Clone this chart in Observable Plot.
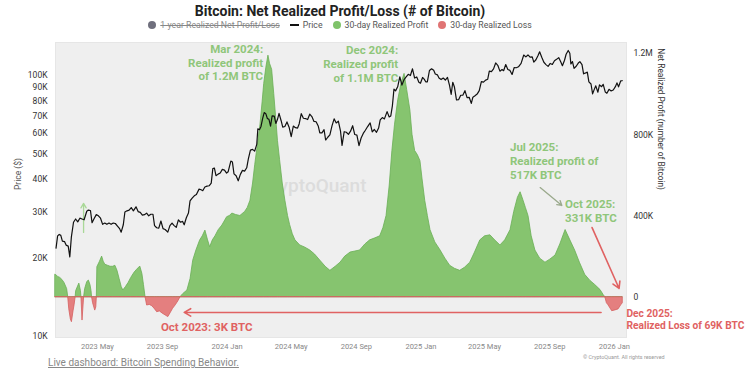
<!DOCTYPE html>
<html><head><meta charset="utf-8">
<script src="https://cdn.jsdelivr.net/npm/d3@7"></script>
<script src="https://cdn.jsdelivr.net/npm/@observablehq/plot@0.6"></script>
<style>
body{margin:0;background:#fff;font-family:Roboto,"Noto Sans",sans-serif;}
#wrap{position:relative;width:750px;height:375px;overflow:hidden;background:#fff;}
#title{position:absolute;left:0;top:3px;width:680px;text-align:center;font-weight:700;font-size:14px;line-height:16px;color:#222;}
#legend{position:absolute;left:0;top:19px;width:680px;display:flex;justify-content:center;align-items:center;gap:10px;font-size:8.7px;color:#555;line-height:12px;}
#legend .it{display:flex;align-items:center;gap:4px;}
#legend .dot{width:8px;height:8px;border-radius:50%;display:inline-block;}
#legend .ln{width:9px;height:1.3px;background:#111;display:inline-block;}
#legend .strike{text-decoration:line-through;color:#888;}
.chart{position:absolute;left:0;top:38px;}
#foot{position:absolute;left:48px;top:357px;font-size:10px;color:#888;text-decoration:underline;}
#copy{position:absolute;left:583px;top:354px;font-size:5.4px;color:#999;}
</style></head>
<body><div id="wrap">
<div id="title">Bitcoin: Net Realized Profit/Loss (# of Bitcoin)</div>
<div id="legend">
 <span class="it"><span class="dot" style="background:#6f6f7d"></span><span class="strike">1-year Realized Net Profit/Loss</span></span>
 <span class="it"><span class="ln"></span><span>Price</span></span>
 <span class="it"><span class="dot" style="background:#7fc36a"></span><span>30-day Realized Profit</span></span>
 <span class="it"><span class="dot" style="background:#e07474"></span><span>30-day Realized Loss</span></span>
</div>
<div id="c1" class="chart"></div>
<div id="c2" class="chart"></div>
<div id="foot">Live dashboard: Bitcoin Spending Behavior.</div>
<div id="copy">© CryptoQuant. All rights reserved</div>
</div>
<script>
// ---- data (price in thousand USD) ----
const priceSeries = [
["2023-02-12",21.8],["2023-02-15",24.3],["2023-02-18",24.6],["2023-02-21",24.4],["2023-02-24",23.2],["2023-02-28",23.1],
["2023-03-03",22.4],["2023-03-07",22.2],["2023-03-10",20.2],["2023-03-13",24.1],["2023-03-17",27.4],["2023-03-21",28.2],
["2023-03-25",27.5],["2023-03-29",28.4],["2023-04-02",28.2],["2023-04-06",28.0],["2023-04-11",30.2],["2023-04-14",30.5],
["2023-04-18",30.4],["2023-04-21",27.3],["2023-04-25",28.3],["2023-04-29",29.3],["2023-05-03",29.0],["2023-05-07",28.4],
["2023-05-11",26.9],["2023-05-15",27.2],["2023-05-19",26.9],["2023-05-23",27.2],["2023-05-27",26.9],["2023-05-31",27.2],
["2023-06-04",27.1],["2023-06-08",26.5],["2023-06-12",25.9],["2023-06-15",25.1],["2023-06-19",26.8],["2023-06-22",30.0],
["2023-06-26",30.3],["2023-06-30",30.5],["2023-07-04",31.2],["2023-07-08",30.3],["2023-07-13",31.4],["2023-07-17",30.1],
["2023-07-21",29.9],["2023-07-25",29.2],["2023-07-29",29.3],["2023-08-02",29.7],["2023-08-06",29.0],["2023-08-10",29.4],
["2023-08-14",29.4],["2023-08-17",26.6],["2023-08-21",26.1],["2023-08-25",26.0],["2023-08-29",27.7],["2023-09-02",25.9],
["2023-09-06",25.7],["2023-09-11",25.1],["2023-09-15",26.6],["2023-09-19",27.2],["2023-09-23",26.6],["2023-09-27",26.2],
["2023-10-01",28.0],["2023-10-05",27.4],["2023-10-09",27.6],["2023-10-12",26.8],["2023-10-16",28.5],["2023-10-20",29.7],
["2023-10-23",33.1],["2023-10-27",33.9],["2023-10-31",34.6],["2023-11-04",35.0],["2023-11-09",36.7],["2023-11-13",36.5],
["2023-11-16",36.2],["2023-11-20",37.4],["2023-11-24",37.7],["2023-11-28",37.8],["2023-12-02",38.7],["2023-12-05",44.0],
["2023-12-08",44.2],["2023-12-11",41.3],["2023-12-15",41.9],["2023-12-19",42.3],["2023-12-23",43.7],["2023-12-27",43.4],
["2023-12-31",42.3],["2024-01-03",42.8],["2024-01-08",47.0],["2024-01-11",46.6],["2024-01-14",42.0],["2024-01-18",41.3],
["2024-01-22",39.5],["2024-01-26",41.8],["2024-01-30",43.3],["2024-02-03",43.0],["2024-02-07",44.3],["2024-02-10",47.8],
["2024-02-14",51.8],["2024-02-18",52.1],["2024-02-22",51.3],["2024-02-26",54.5],["2024-02-28",62.5],["2024-03-02",62.0],
["2024-03-05",63.8],["2024-03-08",68.3],["2024-03-11",72.1],["2024-03-14",71.4],["2024-03-17",68.4],["2024-03-20",67.9],
["2024-03-23",64.0],["2024-03-26",70.0],["2024-03-30",69.9],["2024-04-02",65.5],["2024-04-05",67.8],["2024-04-08",71.6],
["2024-04-12",67.1],["2024-04-15",63.4],["2024-04-19",63.8],["2024-04-23",66.4],["2024-04-27",63.4],["2024-05-01",58.3],
["2024-05-05",64.0],["2024-05-09",63.1],["2024-05-13",62.9],["2024-05-16",65.2],["2024-05-20",71.4],["2024-05-24",68.6],
["2024-05-28",68.4],["2024-06-01",67.8],["2024-06-05",71.1],["2024-06-09",69.6],["2024-06-13",66.7],["2024-06-17",66.5],
["2024-06-21",64.1],["2024-06-24",60.3],["2024-06-28",60.3],["2024-07-02",62.0],["2024-07-05",56.6],["2024-07-09",58.0],
["2024-07-13",59.2],["2024-07-17",64.1],["2024-07-21",68.2],["2024-07-25",65.8],["2024-07-29",66.8],["2024-08-02",61.4],
["2024-08-05",54.0],["2024-08-09",60.9],["2024-08-13",60.6],["2024-08-17",59.5],["2024-08-21",61.2],["2024-08-25",64.2],
["2024-08-29",59.4],["2024-09-02",59.1],["2024-09-06",53.9],["2024-09-10",57.6],["2024-09-14",60.0],["2024-09-18",61.7],
["2024-09-22",63.6],["2024-09-27",65.8],["2024-10-01",60.8],["2024-10-05",62.1],["2024-10-09",60.6],["2024-10-13",62.9],
["2024-10-16",67.6],["2024-10-20",69.0],["2024-10-24",68.2],["2024-10-29",72.7],["2024-11-02",69.4],["2024-11-05",70.0],
["2024-11-08",76.5],["2024-11-11",88.7],["2024-11-14",87.3],["2024-11-18",90.5],["2024-11-22",98.9],["2024-11-26",91.9],
["2024-11-30",96.4],["2024-12-04",98.8],["2024-12-08",101.1],["2024-12-12",100.0],["2024-12-16",106.1],["2024-12-20",97.8],
["2024-12-24",98.7],["2024-12-28",94.3],["2024-12-31",93.4],["2025-01-04",98.3],["2025-01-07",96.9],["2025-01-10",94.6],
["2025-01-13",94.5],["2025-01-17",104.5],["2025-01-21",106.1],["2025-01-25",104.7],["2025-01-28",101.3],["2025-02-01",100.6],
["2025-02-04",97.8],["2025-02-08",96.5],["2025-02-12",97.8],["2025-02-16",96.1],["2025-02-20",98.3],["2025-02-24",91.4],
["2025-02-27",84.7],["2025-03-02",94.2],["2025-03-05",90.6],["2025-03-09",80.7],["2025-03-13",80.8],["2025-03-17",84.0],
["2025-03-21",84.1],["2025-03-25",87.5],["2025-03-29",82.3],["2025-04-02",82.5],["2025-04-06",78.2],["2025-04-09",82.6],
["2025-04-13",83.7],["2025-04-17",84.9],["2025-04-21",87.5],["2025-04-25",94.7],["2025-04-29",94.3],["2025-05-03",96.0],
["2025-05-07",96.8],["2025-05-10",104.0],["2025-05-14",103.5],["2025-05-18",106.0],["2025-05-22",111.7],["2025-05-26",109.4],
["2025-05-30",103.9],["2025-06-03",105.4],["2025-06-06",104.3],["2025-06-10",110.2],["2025-06-14",105.5],["2025-06-18",104.6],
["2025-06-22",100.9],["2025-06-26",107.3],["2025-06-30",107.1],["2025-07-04",108.0],["2025-07-09",111.3],["2025-07-14",119.8],
["2025-07-18",117.9],["2025-07-22",119.9],["2025-07-26",117.6],["2025-07-30",117.8],["2025-08-02",112.5],["2025-08-06",114.9],
["2025-08-10",119.3],["2025-08-13",123.3],["2025-08-17",117.5],["2025-08-21",112.4],["2025-08-25",110.1],["2025-08-29",108.4],
["2025-09-02",111.2],["2025-09-06",110.2],["2025-09-10",113.9],["2025-09-14",115.3],["2025-09-18",117.1],["2025-09-22",112.7],
["2025-09-25",109.0],["2025-09-29",114.4],["2025-10-02",120.6],["2025-10-06",124.7],["2025-10-09",121.7],["2025-10-11",110.8],
["2025-10-14",113.1],["2025-10-17",106.5],["2025-10-21",108.5],["2025-10-25",111.6],["2025-10-28",113.0],["2025-11-01",110.1],
["2025-11-04",101.5],["2025-11-08",102.3],["2025-11-11",103.0],["2025-11-14",94.6],["2025-11-18",92.8],["2025-11-21",85.1],
["2025-11-24",88.3],["2025-11-27",91.3],["2025-12-01",86.3],["2025-12-04",92.1],["2025-12-08",90.6],["2025-12-11",92.5],
["2025-12-15",86.4],["2025-12-18",85.5],["2025-12-22",88.5],["2025-12-26",87.3],["2025-12-30",88.0],["2026-01-03",90.6],
["2026-01-06",93.7],["2026-01-09",90.5],["2026-01-13",95.3],["2026-01-16",95.5]
];
// 30-day net realized profit/loss (thousand BTC)
const netSeries = [
["2023-02-11",110],["2023-02-13",107],["2023-02-16",100],["2023-02-20",95],["2023-02-24",85],["2023-02-28",70],["2023-03-05",40],
["2023-03-07",0],["2023-03-09",-60],["2023-03-12",-110],["2023-03-14",-123],["2023-03-17",-70],["2023-03-19",-40],["2023-03-21",0],
["2023-03-22",30],["2023-03-28",67],["2023-03-31",30],["2023-04-01",0],["2023-04-03",-115],["2023-04-05",-40],["2023-04-06",0],
["2023-04-08",40],["2023-04-12",75],["2023-04-15",82],["2023-04-18",60],["2023-04-20",30],["2023-04-21",0],["2023-04-23",-30],
["2023-04-27",-66],["2023-04-29",-50],["2023-04-30",0],["2023-05-01",148],["2023-05-06",175],["2023-05-10",200],["2023-05-13",175],
["2023-05-16",160],["2023-05-21",155],["2023-05-26",150],["2023-05-31",150],["2023-06-04",155],["2023-06-08",130],["2023-06-12",90],
["2023-06-16",50],["2023-06-19",33],["2023-06-24",50],["2023-06-29",70],["2023-07-04",95],["2023-07-10",120],["2023-07-15",135],
["2023-07-21",151],["2023-07-25",115],["2023-07-28",60],["2023-07-31",0],["2023-08-03",-41],["2023-08-08",-38],["2023-08-13",-45],
["2023-08-18",-60],["2023-08-22",-74],["2023-08-27",-70],["2023-09-01",-80],["2023-09-07",-90],["2023-09-12",-98],["2023-09-16",-80],
["2023-09-21",-57],["2023-09-26",-40],["2023-10-01",-20],["2023-10-05",0],["2023-10-10",15],["2023-10-18",33],["2023-10-24",90],
["2023-10-29",180],["2023-11-04",230],["2023-11-11",279],["2023-11-16",300],["2023-11-21",328],["2023-11-26",280],["2023-11-30",246],
["2023-12-05",280],["2023-12-10",300],["2023-12-16",330],["2023-12-23",353],["2024-01-01",394],["2024-01-06",400],["2024-01-11",412],
["2024-01-18",405],["2024-01-26",400],["2024-02-04",420],["2024-02-09",440],["2024-02-14",475],["2024-02-19",560],["2024-02-23",650],
["2024-02-28",750],["2024-03-04",850],["2024-03-08",960],["2024-03-11",1050],["2024-03-15",1130],["2024-03-19",1190],["2024-03-22",1150],
["2024-03-26",1120],["2024-03-30",1000],["2024-04-03",870],["2024-04-06",770],["2024-04-10",675],["2024-04-15",560],["2024-04-20",475],
["2024-04-25",400],["2024-04-29",355],["2024-05-04",310],["2024-05-09",280],["2024-05-18",255],["2024-05-27",245],["2024-06-06",230],
["2024-06-15",210],["2024-06-25",180],["2024-07-05",150],["2024-07-14",130],["2024-07-24",150],["2024-08-02",170],["2024-08-11",200],
["2024-08-21",220],["2024-08-30",225],["2024-09-08",230],["2024-09-18",260],["2024-09-27",280],["2024-10-07",290],["2024-10-16",300],
["2024-10-22",340],["2024-10-28",400],["2024-11-03",550],["2024-11-08",720],["2024-11-13",850],["2024-11-19",970],["2024-11-25",1050],
["2024-12-01",1100],["2024-12-06",1020],["2024-12-12",920],["2024-12-16",800],["2024-12-21",720],["2024-12-26",700],["2024-12-31",670],
["2025-01-04",580],["2025-01-09",475],["2025-01-14",400],["2025-01-19",330],["2025-01-28",270],["2025-02-07",230],["2025-02-16",190],
["2025-02-25",155],["2025-03-06",140],["2025-03-16",130],["2025-03-25",145],["2025-04-04",170],["2025-04-13",220],["2025-04-23",280],
["2025-05-02",300],["2025-05-12",305],["2025-05-21",280],["2025-05-31",255],["2025-06-09",280],["2025-06-19",330],["2025-06-26",420],
["2025-07-03",490],["2025-07-08",517],["2025-07-13",480],["2025-07-18",440],["2025-07-23",400],["2025-07-29",300],["2025-08-05",230],
["2025-08-14",190],["2025-08-24",170],["2025-09-02",185],["2025-09-12",205],["2025-09-21",260],["2025-10-01",331],["2025-10-10",280],
["2025-10-19",230],["2025-10-28",170],["2025-11-07",110],["2025-11-17",80],["2025-11-26",60],["2025-12-06",35],["2025-12-12",10],
["2025-12-15",0],["2025-12-18",-30],["2025-12-21",-40],["2025-12-28",-69],["2026-01-03",-65],["2026-01-09",-60],["2026-01-14",-40],
["2026-01-17",-30]
];
const xTickDates = ["2023-05-01","2023-09-01","2024-01-01","2024-05-01","2024-09-01","2025-01-01","2025-05-01","2025-09-01","2026-01-01"];
const priceTicks = [10000,20000,30000,40000,50000,60000,70000,80000,90000,100000];
const netTicks = [0,400000,800000,1200000];
const netTickLabels = ["0","400K","800K","1.2M"];
// text annotations: [date, value (thousand BTC), text, colour key, anchor, font size]
const annotations = [
["2024-03-09",1158,"Mar 2024:\nRealized profit\nof 1.2M BTC","g","end",11.5],
["2024-11-19",1150,"Dec 2024:\nRealized profit\nof 1.1M BTC","g","end",11.5],
["2025-06-18",673,"Jul 2025:\nRealized profit of\n517K BTC","g","start",11.5],
["2025-09-30",425,"Oct 2025:\n331K BTC","g","start",11.5],
["2023-08-29",-144,"Oct 2023: 3K BTC","r","start",11.5],
["2026-01-24",-107,"Dec 2025:\nRealized Loss of 69K BTC","r","start",10.2]
];
// arrows: [fromDate, fromValue, toDate, toValue (thousand BTC), colour key]
const arrows = [
["2023-04-05",319,"2023-04-05",462,"lg"],
["2025-08-14",540,"2025-09-24",452,"gg"],
["2025-11-20",343,"2026-01-10",43,"r"],
["2025-12-07",-75,"2023-10-12",-75,"r"]
];

const parse = d3.utcParse("%Y-%m-%d");
const priceData = priceSeries.map(([d,v]) => ({date: parse(d), price: v*1000}));
const netData = netSeries.map(([d,v]) => ({date: parse(d), value: v*1000}));
const annData = annotations.map(([d,v,t,c,a,s]) => ({date: parse(d), value: v*1000, text: t, c, a, s}));
const arrowData = arrows.map(([d1,v1,d2,v2,c]) => ({x1: parse(d1), y1: v1*1000, x2: parse(d2), y2: v2*1000, c}));
const colors = {g: "#8fc67a", r: "#e06262", lg: "#a9d897", gg: "#9aa98c"};

const xDomain = [parse("2023-02-11"), parse("2026-01-24")];
const common = {width: 750, height: 318, marginLeft: 55, marginRight: 124, marginTop: 4, marginBottom: 19};
const style = {background: "transparent", fontFamily: "Roboto, sans-serif", overflow: "visible"};
const annText = (anchor, size) => Plot.text(annData.filter(d => d.a === anchor && d.s === size), {x: "date", y: "value", text: "text", fill: d => colors[d.c], textAnchor: anchor, lineAnchor: "middle", lineHeight: 1.2, fontSize: size, fontWeight: 700});

const netPlot = Plot.plot({
  ...common, style,
  x: {type: "utc", domain: xDomain, axis: null},
  y: {domain: [-198500, 1254700], axis: null},
  marks: [
    Plot.frame({fill: "#efefef", stroke: "#e6e6e6"}),
    Plot.text(["CryptoQuant"], {frameAnchor: "middle", dx: -28, dy: -4, fontSize: 19, fill: "#dcdcdc", fontWeight: 500}),
    Plot.areaY(netData, {x: "date", y1: 0, y2: d => Math.max(0, d.value), fill: "#86c46f", stroke: "#6aae55", strokeWidth: 0.8}),
    Plot.areaY(netData, {x: "date", y1: 0, y2: d => Math.min(0, d.value), fill: "#e47f7f", stroke: "#d55f5f", strokeWidth: 0.8}),
    Plot.axisY({anchor: "right", ticks: netTicks, tickFormat: d => netTickLabels[netTicks.indexOf(d)], tickSize: 0, tickPadding: 7, fontSize: 8.5, color: "#333", label: null}),
    Plot.text(["Net Realized Profit (number of Bitcoin)"], {frameAnchor: "right", dx: 34, rotate: 90, fontSize: 8.3, fill: "#333"}),
    Plot.arrow(arrowData.filter(d => d.c !== "r"), {x1: "x1", y1: "y1", x2: "x2", y2: "y2", stroke: d => colors[d.c], strokeWidth: 1.3, headLength: 6}),
    Plot.arrow(arrowData.filter(d => d.c === "r"), {x1: "x1", y1: "y1", x2: "x2", y2: "y2", stroke: colors.r, strokeWidth: 1.6, headLength: 7}),
    annText("start", 11.5),
    annText("start", 10.2),
    annText("end", 11.5)
  ]
});
document.getElementById("c1").appendChild(netPlot);

const pricePlot = Plot.plot({
  ...common, style,
  x: {type: "utc", domain: xDomain},
  y: {type: "log", domain: [9912, 133800]},
  marks: [
    Plot.lineY(priceData, {x: "date", y: "price", stroke: "#111", strokeWidth: 1.2}),
    Plot.axisY({anchor: "left", ticks: priceTicks, tickFormat: d => d/1000 + "K", tickSize: 0, tickPadding: 8, fontSize: 8.5, color: "#333", label: null, line: true, strokeWidth: 1.6, stroke: "#666"}),
    Plot.text(["Price ($)"], {frameAnchor: "left", dx: -37, rotate: -90, fontSize: 8.5, fill: "#555"}),
    Plot.axisX({ticks: xTickDates.map(parse), tickFormat: d3.utcFormat("%Y %b"), tickSize: 0, tickPadding: 6, fontSize: 7.5, color: "#888", label: null})
  ]
});
document.getElementById("c2").appendChild(pricePlot);
</script>
</body></html>
